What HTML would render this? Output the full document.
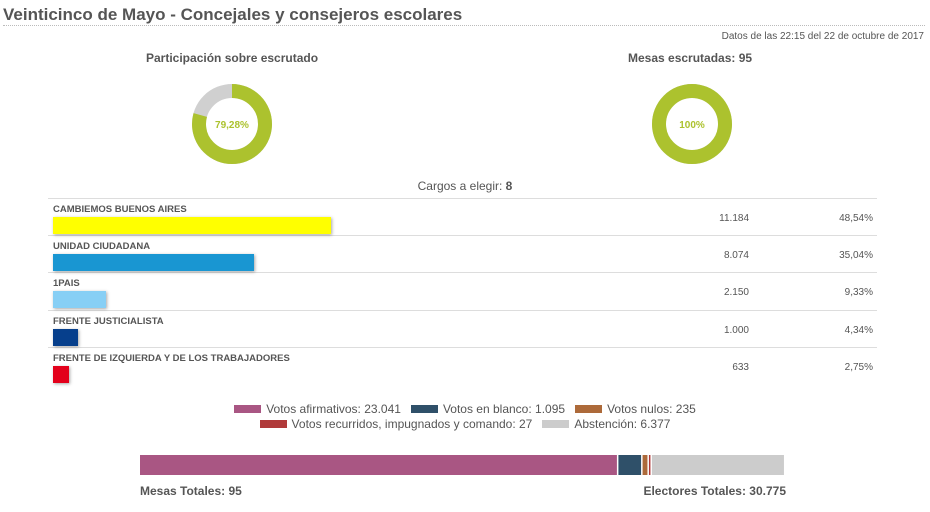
<!DOCTYPE html>
<html><head><meta charset="utf-8"><style>
body{margin:0;width:930px;height:512px;background:#fff;font-family:"Liberation Sans",Arial,sans-serif;color:#555;position:relative;overflow:hidden}
.a{position:absolute;white-space:nowrap}
</style></head><body>
<div class="a" style="left:3px;top:5px;font-size:17px;font-weight:bold;color:#555">Veinticinco de Mayo - Concejales y consejeros escolares</div>
<div class="a" style="left:3px;top:25px;width:922px;border-top:1px dotted #bbb"></div>
<div class="a" style="right:6px;top:31px;font-size:10px;color:#555">Datos de las 22:15 del 22 de octubre de 2017</div>
<div class="a" style="left:146px;top:51px;font-size:12px;font-weight:bold;color:#555">Participación sobre escrutado</div>
<div class="a" style="left:628px;top:51px;font-size:12px;font-weight:bold;color:#555">Mesas escrutadas: 95</div>
<svg class="a" style="left:0;top:0" width="930" height="512" id="svg">
</svg>
<div class="a" style="left:0;width:930px;text-align:center;top:179px;font-size:12px;color:#555">Cargos a elegir: <b>8</b></div>
<div id="rows"></div>
<div class="a" style="left:0;width:930px;top:402px;font-size:12px;color:#555;text-align:center;line-height:15px">
<span><span style="display:inline-block;width:27px;height:8px;background:#a95683;margin-right:5px"></span>Votos afirmativos: 23.041</span>&nbsp;&nbsp;
<span><span style="display:inline-block;width:27px;height:8px;background:#2f5069;margin-right:5px"></span>Votos en blanco: 1.095</span>&nbsp;&nbsp;
<span><span style="display:inline-block;width:27px;height:8px;background:#ad6a3a;margin-right:5px"></span>Votos nulos: 235</span><br>
<span><span style="display:inline-block;width:27px;height:8px;background:#b03a3a;margin-right:5px"></span>Votos recurridos, impugnados y comando: 27</span>&nbsp;&nbsp;
<span><span style="display:inline-block;width:27px;height:8px;background:#cccccc;margin-right:5px"></span>Abstención: 6.377</span>
</div>
<div class="a" style="left:140px;top:484px;font-size:12px;font-weight:bold;color:#555">Mesas Totales: 95</div>
<div class="a" style="right:144px;top:484px;font-size:12px;font-weight:bold;color:#555">Electores Totales: 30.775</div>
<script>
const parties=["CAMBIEMOS BUENOS AIRES","UNIDAD CIUDADANA","1PAIS","FRENTE JUSTICIALISTA","FRENTE DE IZQUIERDA Y DE LOS TRABAJADORES"];
const votes=["11.184","8.074","2.150","1.000","633"];
const pcts=[48.54,35.04,9.33,4.34,2.75];
const colors=["#ffff00","#1996d2","#87cff5","#063f8c","#e3001b"];
const totalsLabels=["afirmativos","blanco","nulos","recurridos","abstencion"];
const totals=[23041,1095,235,27,6377];
const totalColors=["#a95683","#2f5069","#ad6a3a","#b03a3a","#cccccc"];
const participation=79.28;
const mesasPct=100;

const NS="http://www.w3.org/2000/svg";
const svg=document.getElementById('svg');
function donut(cx,cy,val,name){
  const r=33,c=2*Math.PI*r;
  const g=document.createElementNS(NS,'g');
  
  
  const bg=document.createElementNS(NS,'circle');
  bg.setAttribute('cx',cx);bg.setAttribute('cy',cy);bg.setAttribute('r',r);
  bg.setAttribute('fill','none');bg.setAttribute('stroke','#d0d0d0');bg.setAttribute('stroke-width',14);
  g.appendChild(bg);
  const fg=document.createElementNS(NS,'circle');
  
  
  fg.setAttribute('cx',cx);fg.setAttribute('cy',cy);fg.setAttribute('r',r);
  fg.setAttribute('fill','none');fg.setAttribute('stroke','#acc22e');fg.setAttribute('stroke-width',14);
  fg.setAttribute('stroke-dasharray',(c*val/100)+' '+c);
  fg.setAttribute('transform','rotate(-90 '+cx+' '+cy+')');
  g.appendChild(fg);
  const t=document.createElementNS(NS,'text');
  t.setAttribute('x',cx);t.setAttribute('y',cy+4);t.setAttribute('text-anchor','middle');
  t.setAttribute('font-size','10');t.setAttribute('font-weight','bold');t.setAttribute('fill','#acc22e');t.setAttribute('font-family','Liberation Sans, sans-serif');
  t.textContent=(val===100?'100':val.toFixed(2).replace('.',','))+'%';
  g.appendChild(t);
  svg.appendChild(g);
}
donut(232,124,participation,'participation-donut');
donut(692,124,mesasPct,'mesas-donut');

const scale=278/48.54;
const rows=document.getElementById('rows');
const top0=199,rowH=37.2;
const sep0=document.createElement('div');sep0.className='a';


sep0.style.cssText='left:48px;top:198px;width:829px;border-top:1px solid #ddd';
rows.appendChild(sep0);
parties.forEach((p,i)=>{
  const y=top0+i*rowH;
  const r=document.createElement('div');r.className='a';
  
  
  r.style.cssText='left:48px;top:'+y+'px;width:829px;height:'+(rowH-1)+'px;'+(i<parties.length-1?'border-bottom:1px solid #ddd':'');
  r.innerHTML='<div class="a" style="left:5px;top:5px;font-size:9.5px;font-weight:bold;color:#555">'+p+'</div>'+
   '<div class="a" style="left:5px;top:18px;height:17px;width:'+(pcts[i]*scale)+'px;background:'+colors[i]+';box-shadow:1px 1px 3px rgba(0,0,0,.35)"></div>'+
   '<div class="a" style="right:128px;top:14px;font-size:10px;color:#555">'+votes[i]+'</div>'+
   '<div class="a" style="right:4px;top:14px;font-size:10px;color:#555">'+pcts[i].toFixed(2).replace('.',',')+'%</div>';
  rows.appendChild(r);
});
const sum=totals.reduce((a,b)=>a+b,0);
let x=140;const W=637;
totals.forEach((v,i)=>{
  const w=v/sum*W;
  const rc=document.createElementNS(NS,'rect');
  
  
  rc.setAttribute('x',x);rc.setAttribute('y',455);
  rc.setAttribute('width',Math.max(1.5,w));rc.setAttribute('height',20);
  rc.setAttribute('fill',totalColors[i]);
  svg.appendChild(rc);
  x+=Math.max(1.5,w)+1.5;
});
</script>
</body></html>
